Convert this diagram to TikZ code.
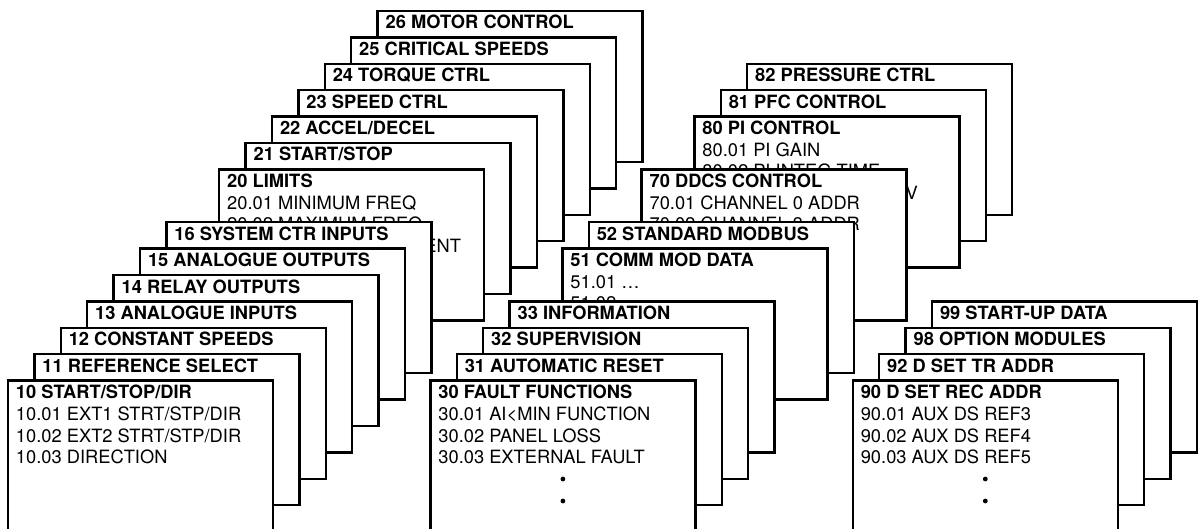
\documentclass[tikz,border=0pt]{standalone}
\usepackage{fontspec}
\setmainfont{texgyreheros}[Extension=.otf, UprightFont=*-regular, BoldFont=*-bold, ItalicFont=*-italic, BoldItalicFont=*-bolditalic]
\tikzset{
  pbox/.style={draw=black, fill=white, line width=2.4pt, minimum width=265pt, minimum height=151pt, inner sep=0pt, outer sep=0pt, anchor=north west},
  ptext/.style={inner sep=0pt, outer sep=0pt, anchor=base west, font=\fontsize{18.3}{21.7}\selectfont},
  pdot/.style={circle, fill=black, draw=none, inner sep=0pt, minimum size=4.8pt},
}
\newcommand{\pgroupbox}[5]{%
  \node[pbox] (#1) at ({8+26.4*#2},{-11-26.4*#3}) {};
  \node[ptext] (#1t) at ([xshift=8pt,yshift=-18pt]#1.north west) {\vtop{\baselineskip=21.7pt\lineskiplimit=-20pt\hbox{\bfseries #4}#5}};
}
\newcommand{\pl}[1]{\hbox{#1}}
\begin{document}
\begin{tikzpicture}[x=1pt,y=1pt]
\useasboundingbox (0,0) rectangle (1201,-529);
\clip (0,0) rectangle (1201,-529);
% stack 2 (behind stack 1)
\pgroupbox{b26}{14}{0}{26 MOTOR CONTROL}{}
\pgroupbox{b25}{13}{1}{25 CRITICAL SPEEDS}{}
\pgroupbox{b24}{12}{2}{24 TORQUE CTRL}{}
\pgroupbox{b23}{11}{3}{23 SPEED CTRL}{}
\pgroupbox{b22}{10}{4}{22 ACCEL/DECEL}{}
\pgroupbox{b21}{9}{5}{21 START/STOP}{}
\pgroupbox{b20}{8}{6}{20 LIMITS}{\pl{20.01 MINIMUM FREQ}\pl{20.02 MAXIMUM FREQ}\pl{20.03 MAXIMUM CURRENT}}
% stack 1
\pgroupbox{b16}{6}{8}{16 SYSTEM CTR INPUTS}{}
\pgroupbox{b15}{5}{9}{15 ANALOGUE OUTPUTS}{}
\pgroupbox{b14}{4}{10}{14 RELAY OUTPUTS}{}
\pgroupbox{b13}{3}{11}{13 ANALOGUE INPUTS}{}
\pgroupbox{b12}{2}{12}{12 CONSTANT SPEEDS}{}
\pgroupbox{b11}{1}{13}{11 REFERENCE SELECT}{}
\pgroupbox{b10}{0}{14}{10 START/STOP/DIR}{\pl{10.01 EXT1 STRT/STP/DIR}\pl{10.02 EXT2 STRT/STP/DIR}\pl{10.03 DIRECTION}}
% stack 3
\pgroupbox{b82}{28}{2}{82 PRESSURE CTRL}{}
\pgroupbox{b81}{27}{3}{81 PFC CONTROL}{}
\pgroupbox{b80}{26}{4}{80 PI CONTROL}{\pl{80.01 PI GAIN}\pl{80.02 PI INTEG TIME}\pl{80.03 ERROR VALUE INV}}
\pgroupbox{b70}{24}{6}{70 DDCS CONTROL}{\pl{70.01 CHANNEL 0 ADDR}\pl{70.02 CHANNEL 3 ADDR}}
\pgroupbox{b52}{22}{8}{52 STANDARD MODBUS}{}
\pgroupbox{b51}{21}{9}{51 COMM MOD DATA}{\pl{51.01 …}\pl{51.02 …}}
\pgroupbox{b33}{19}{11}{33 INFORMATION}{}
\pgroupbox{b32}{18}{12}{32 SUPERVISION}{}
\pgroupbox{b31}{17}{13}{31 AUTOMATIC RESET}{}
\pgroupbox{b30}{16}{14}{30 FAULT FUNCTIONS}{\pl{30.01 AI<MIN FUNCTION}\pl{30.02 PANEL LOSS}\pl{30.03 EXTERNAL FAULT}}
\node[pdot] (d30a) at ([yshift=-98.4pt]b30.north) {};
\node[pdot] (d30b) at ([yshift=-120.4pt]b30.north) {};
% stack 4
\pgroupbox{b99}{35}{11}{99 START-UP DATA}{}
\pgroupbox{b98}{34}{12}{98 OPTION MODULES}{}
\pgroupbox{b92}{33}{13}{92 D SET TR ADDR}{}
\pgroupbox{b90}{32}{14}{90 D SET REC ADDR}{\pl{90.01 AUX DS REF3}\pl{90.02 AUX DS REF4}\pl{90.03 AUX DS REF5}}
\node[pdot] (d90a) at ([yshift=-98.4pt]b90.north) {};
\node[pdot] (d90b) at ([yshift=-120.4pt]b90.north) {};
\end{tikzpicture}
\end{document}
